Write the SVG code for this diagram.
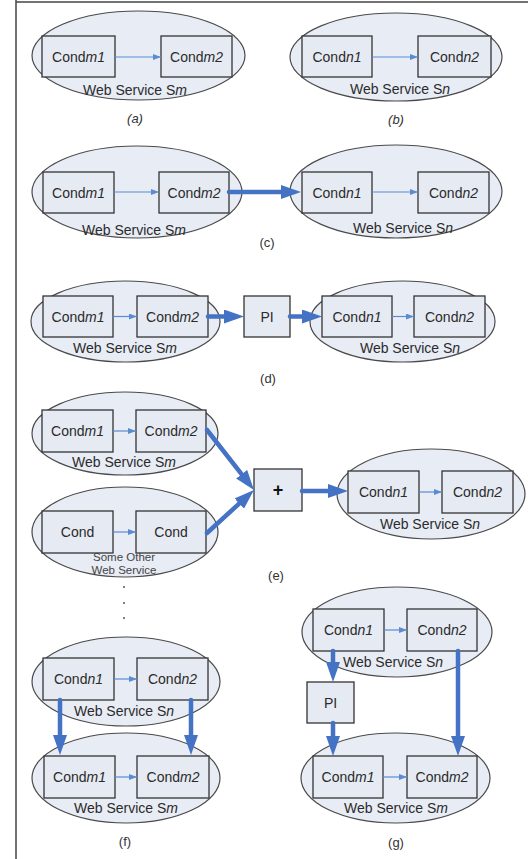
<svg xmlns="http://www.w3.org/2000/svg" width="528" height="859" viewBox="0 0 528 859">
  <style>
    .ws { fill: #e8ecf5; stroke: #4a4a4a; stroke-width: 1.2; }
    .box { fill: #e6eaf3; stroke: #333; stroke-width: 1.3; }
    .t { font-family: "Liberation Sans", Arial, sans-serif; font-size: 14px; fill: #2b2b2b; text-anchor: middle; }
    .small { font-size: 11.5px; fill: #444; }
    .cap { font-family: "Liberation Sans", Arial, sans-serif; font-size: 13px; fill: #333; text-anchor: middle; }
    .i { font-style: italic; }
    .thin { stroke: #5b8bd0; stroke-width: 1.2; fill: none; marker-end: url(#headS); }
    .thick { stroke: #4472c4; stroke-width: 4.5; fill: none; stroke-linecap: round; marker-end: url(#headL); }
    .frame { stroke: #444; stroke-width: 1.5; }
  </style>
  <defs>
    <marker id="headS" markerUnits="userSpaceOnUse" markerWidth="8" markerHeight="6" refX="8" refY="3" orient="auto">
      <path d="M0,0 L8,3 L0,6 z" fill="#5b8bd0"/>
    </marker>
    <marker id="headL" markerUnits="userSpaceOnUse" markerWidth="20" markerHeight="14" refX="10" refY="7" orient="auto">
      <path d="M0,0 L20,7 L0,14 z" fill="#4472c4"/>
    </marker>
  </defs>

  <!-- page frame -->
  <line class="frame" x1="16" y1="0" x2="16" y2="859"/>
  <line class="frame" x1="16" y1="2" x2="528" y2="2"/>

  <!-- (a) -->
  <g id="a-ws-m">
    <ellipse class="ws" cx="138.5" cy="55.5" rx="106.5" ry="44.5"/>
    <text class="t" x="135" y="95">Web Service S<tspan class="i">m</tspan></text>
  </g>
  <g id="a-condm1"><rect class="box" x="42" y="36" width="73" height="41"/><text class="t" x="78.5" y="61.5">Cond<tspan class="i">m1</tspan></text></g>
  <g id="a-condm2"><rect class="box" x="161" y="36" width="71" height="41"/><text class="t" x="196.5" y="61.5">Cond<tspan class="i">m2</tspan></text></g>
  <text class="cap i" x="135" y="123">(a)</text>

  <!-- (b) -->
  <g id="b-ws-n">
    <ellipse class="ws" cx="396" cy="57" rx="106" ry="44"/>
    <text class="t" x="400" y="94">Web Service S<tspan class="i">n</tspan></text>
  </g>
  <g id="b-condn1"><rect class="box" x="302" y="36" width="70" height="41"/><text class="t" x="337" y="61.5">Cond<tspan class="i">n1</tspan></text></g>
  <g id="b-condn2"><rect class="box" x="418" y="36" width="73" height="41"/><text class="t" x="454.5" y="61.5">Cond<tspan class="i">n2</tspan></text></g>
  <text class="cap i" x="396" y="124">(b)</text>

  <!-- (c) -->
  <g id="c-ws-m">
    <ellipse class="ws" cx="137" cy="192" rx="105" ry="46"/>
    <text class="t" x="134" y="235">Web Service S<tspan class="i">m</tspan></text>
  </g>
  <g id="c-condm1"><rect class="box" x="43" y="172" width="71" height="41"/><text class="t" x="78.5" y="197.5">Cond<tspan class="i">m1</tspan></text></g>
  <g id="c-condm2"><rect class="box" x="159" y="172" width="70" height="41"/><text class="t" x="194" y="197.5">Cond<tspan class="i">m2</tspan></text></g>
  <g id="c-ws-n">
    <ellipse class="ws" cx="396" cy="191.5" rx="106" ry="46.5"/>
    <text class="t" x="403" y="233">Web Service S<tspan class="i">n</tspan></text>
  </g>
  <g id="c-condn1"><rect class="box" x="302" y="172" width="70" height="41"/><text class="t" x="337" y="197.5">Cond<tspan class="i">n1</tspan></text></g>
  <g id="c-condn2"><rect class="box" x="418" y="172" width="71" height="41"/><text class="t" x="453.5" y="197.5">Cond<tspan class="i">n2</tspan></text></g>
  <text class="cap" x="267" y="247">(c)</text>

  <!-- (d) -->
  <g id="d-ws-m">
    <ellipse class="ws" cx="125.5" cy="321.5" rx="94.5" ry="40.5"/>
    <text class="t" x="125" y="353">Web Service S<tspan class="i">m</tspan></text>
  </g>
  <g id="d-condm1"><rect class="box" x="43" y="296" width="70" height="41"/><text class="t" x="78" y="321.5">Cond<tspan class="i">m1</tspan></text></g>
  <g id="d-condm2"><rect class="box" x="137" y="296" width="71" height="41"/><text class="t" x="172.5" y="321.5">Cond<tspan class="i">m2</tspan></text></g>
  <g id="d-pi"><rect class="box" x="244" y="296" width="46" height="41"/><text class="t" x="267" y="321.5">PI</text></g>
  <g id="d-ws-n">
    <ellipse class="ws" cx="402.5" cy="321.5" rx="92.5" ry="40.5"/>
    <text class="t" x="410" y="353">Web Service S<tspan class="i">n</tspan></text>
  </g>
  <g id="d-condn1"><rect class="box" x="322" y="296" width="70" height="41"/><text class="t" x="357" y="321.5">Cond<tspan class="i">n1</tspan></text></g>
  <g id="d-condn2"><rect class="box" x="414" y="296" width="71" height="41"/><text class="t" x="449.5" y="321.5">Cond<tspan class="i">n2</tspan></text></g>
  <text class="cap" x="268" y="383">(d)</text>

  <!-- (e) -->
  <g id="e-ws-m">
    <ellipse class="ws" cx="125" cy="433.5" rx="93" ry="41.5"/>
    <text class="t" x="124" y="467">Web Service S<tspan class="i">m</tspan></text>
  </g>
  <g id="e-condm1"><rect class="box" x="42" y="410" width="71" height="42"/><text class="t" x="77.5" y="436">Cond<tspan class="i">m1</tspan></text></g>
  <g id="e-condm2"><rect class="box" x="136" y="410" width="70" height="42"/><text class="t" x="171" y="436">Cond<tspan class="i">m2</tspan></text></g>
  <g id="e-ws-other">
    <ellipse class="ws" cx="125" cy="532" rx="93" ry="45"/>
    <text class="t small" x="124" y="561">Some Other</text>
    <text class="t small" x="124" y="574">Web Service</text>
  </g>
  <g id="e-cond1"><rect class="box" x="42" y="511" width="71" height="42"/><text class="t" x="77.5" y="537">Cond</text></g>
  <g id="e-cond2"><rect class="box" x="136" y="511" width="70" height="42"/><text class="t" x="171" y="537">Cond</text></g>
  <g id="e-plus"><rect class="box" x="254" y="469" width="48" height="42"/><text class="t" x="278" y="496" style="font-size:18px;font-weight:bold;fill:#111">+</text></g>
  <g id="e-ws-n">
    <ellipse class="ws" cx="431" cy="494" rx="94" ry="45"/>
    <text class="t" x="430" y="529">Web Service S<tspan class="i">n</tspan></text>
  </g>
  <g id="e-condn1"><rect class="box" x="348" y="471" width="71" height="42"/><text class="t" x="383.5" y="497">Cond<tspan class="i">n1</tspan></text></g>
  <g id="e-condn2"><rect class="box" x="442" y="471" width="71" height="42"/><text class="t" x="477.5" y="497">Cond<tspan class="i">n2</tspan></text></g>
  <text class="cap" x="276" y="580">(e)</text>

  <!-- continuation dots -->
  <g id="ellipsis" fill="#444">
    <circle cx="124" cy="587" r="0.9"/>
    <circle cx="124" cy="603" r="0.9"/>
    <circle cx="124" cy="618" r="0.9"/>
  </g>

  <!-- (f) -->
  <g id="f-ws-n">
    <ellipse class="ws" cx="126" cy="681.5" rx="94" ry="44.5"/>
    <text class="t" x="124" y="716">Web Service S<tspan class="i">n</tspan></text>
  </g>
  <g id="f-condn1"><rect class="box" x="43" y="658" width="71" height="42"/><text class="t" x="78.5" y="684">Cond<tspan class="i">n1</tspan></text></g>
  <g id="f-condn2"><rect class="box" x="137" y="658" width="71" height="42"/><text class="t" x="172.5" y="684">Cond<tspan class="i">n2</tspan></text></g>
  <g id="f-ws-m">
    <ellipse class="ws" cx="126" cy="778" rx="94" ry="45"/>
    <text class="t" x="126" y="813">Web Service S<tspan class="i">m</tspan></text>
  </g>
  <g id="f-condm1"><rect class="box" x="44" y="756" width="71" height="42"/><text class="t" x="79.5" y="782">Cond<tspan class="i">m1</tspan></text></g>
  <g id="f-condm2"><rect class="box" x="137" y="756" width="72" height="42"/><text class="t" x="173" y="782">Cond<tspan class="i">m2</tspan></text></g>
  <text class="cap" x="125" y="846">(f)</text>

  <!-- (g) -->
  <g id="g-ws-n">
    <ellipse class="ws" cx="397" cy="632" rx="95" ry="45"/>
    <text class="t" x="393" y="667">Web Service S<tspan class="i">n</tspan></text>
  </g>
  <g id="g-condn1"><rect class="box" x="313" y="609" width="71" height="42"/><text class="t" x="348.5" y="635">Cond<tspan class="i">n1</tspan></text></g>
  <g id="g-condn2"><rect class="box" x="407" y="609" width="70" height="42"/><text class="t" x="442" y="635">Cond<tspan class="i">n2</tspan></text></g>
  <g id="g-pi"><rect class="box" x="307" y="682" width="47" height="41"/><text class="t" x="330.5" y="707.5">PI</text></g>
  <g id="g-ws-m">
    <ellipse class="ws" cx="395.5" cy="778" rx="94.5" ry="45"/>
    <text class="t" x="396" y="813">Web Service S<tspan class="i">m</tspan></text>
  </g>
  <g id="g-condm1"><rect class="box" x="313" y="756" width="70" height="42"/><text class="t" x="348" y="782">Cond<tspan class="i">m1</tspan></text></g>
  <g id="g-condm2"><rect class="box" x="407" y="756" width="70" height="42"/><text class="t" x="442" y="782">Cond<tspan class="i">m2</tspan></text></g>
  <text class="cap" x="396" y="847">(g)</text>

  <!-- connectors -->
  <g id="connectors">
    <!-- condition-to-condition links inside a service -->
    <line class="thin" x1="115" y1="57" x2="161" y2="57"/>
    <line class="thin" x1="372" y1="57" x2="418" y2="57"/>
    <line class="thin" x1="114" y1="192" x2="159" y2="192"/>
    <line class="thin" x1="372" y1="192" x2="418" y2="192"/>
    <line class="thin" x1="113" y1="316.5" x2="137" y2="316.5"/>
    <line class="thin" x1="392" y1="316.5" x2="414" y2="316.5"/>
    <line class="thin" x1="113" y1="431" x2="136" y2="431"/>
    <line class="thin" x1="113" y1="532" x2="136" y2="532"/>
    <line class="thin" x1="419" y1="492" x2="442" y2="492"/>
    <line class="thin" x1="114" y1="679" x2="137" y2="679"/>
    <line class="thin" x1="115" y1="777" x2="137" y2="777"/>
    <line class="thin" x1="384" y1="630" x2="407" y2="630"/>
    <line class="thin" x1="383" y1="777" x2="407" y2="777"/>
    <!-- composition links between services -->
    <line class="thick" x1="229" y1="192" x2="291" y2="192"/>
    <line class="thick" x1="208" y1="316.5" x2="234" y2="316.5"/>
    <line class="thick" x1="290" y1="316.5" x2="312" y2="316.5"/>
    <line class="thick" x1="207" y1="430" x2="247.8" y2="482.1"/>
    <line class="thick" x1="207" y1="533" x2="246.6" y2="496.8"/>
    <line class="thick" x1="302" y1="491" x2="338" y2="491"/>
    <line class="thick" x1="60" y1="700" x2="60" y2="745"/>
    <line class="thick" x1="191" y1="700" x2="191" y2="745"/>
    <line class="thick" x1="333" y1="651" x2="333" y2="672"/>
    <line class="thick" x1="333" y1="723" x2="333" y2="746"/>
    <line class="thick" x1="458" y1="651" x2="458" y2="746"/>
  </g>
</svg>
